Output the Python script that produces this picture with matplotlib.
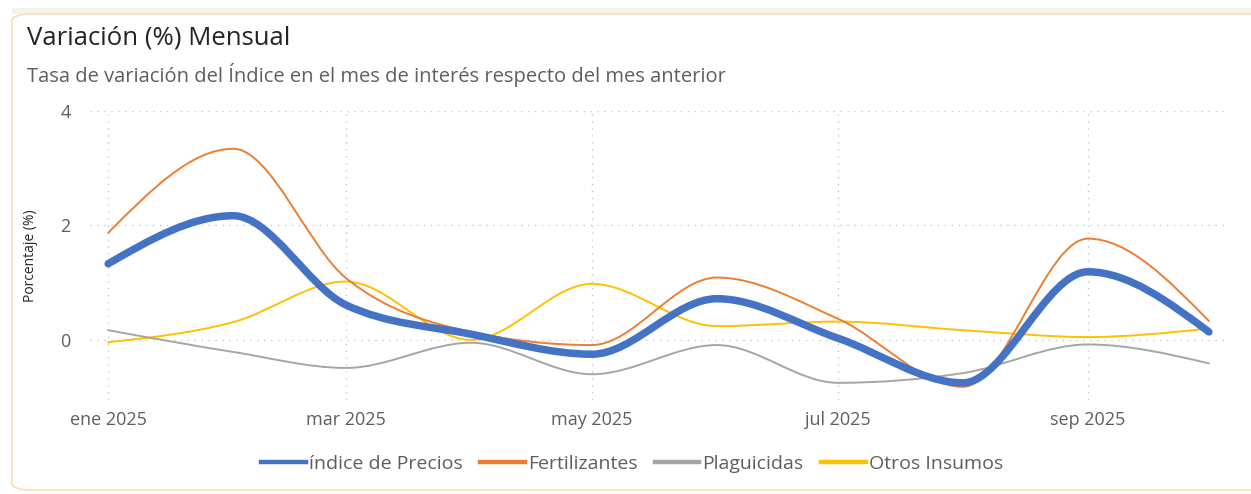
#!/usr/bin/env python3

import numpy as np
import matplotlib.pyplot as plt
from matplotlib.path import Path
from matplotlib.patches import PathPatch, FancyBboxPatch
from matplotlib.lines import Line2D

plt.rcParams['font.family'] = ['Open Sans', 'DejaVu Sans']

# Data: monthly variation (%) by series, Jan-Oct 2025
months = np.arange('2025-01', '2025-11', dtype='datetime64[M]')
indice = [1.33, 2.17, 0.61, 0.10, -0.25, 0.72, 0.03, -0.75, 1.19, 0.14]
fertilizantes = [1.87, 3.34, 1.08, 0.14, -0.09, 1.09, 0.37, -0.82, 1.77, 0.33]
plaguicidas = [0.17, -0.21, -0.49, -0.05, -0.60, -0.09, -0.75, -0.58, -0.08, -0.41]
otros = [-0.04, 0.31, 1.02, 0.00, 0.98, 0.24, 0.32, 0.17, 0.05, 0.20]

series_names = ['índice de Precios', 'Fertilizantes', 'Plaguicidas', 'Otros Insumos']
series_data = [indice, fertilizantes, plaguicidas, otros]
series_colors = ['#4472C4', '#ED7D31', '#A5A5A5', '#FFC000']
series_widths = [5.4, 1.4, 1.4, 1.4]

tick_months = ['2025-01', '2025-03', '2025-05', '2025-07', '2025-09']
tick_labels = ['ene 2025', 'mar 2025', 'may 2025', 'jul 2025', 'sep 2025']

# x as days since Jan 1 (date axis)
x = (months.astype('datetime64[D]') - np.datetime64('2025-01-01')).astype(float)
xt = (np.array(tick_months, dtype='datetime64[M]').astype('datetime64[D]')
      - np.datetime64('2025-01-01')).astype(float)


def monotone_path(xs, ys):
    # monotone cubic (like d3 curveMonotoneX) as bezier path
    xs = np.asarray(xs, float)
    ys = np.asarray(ys, float)
    n = len(xs)
    h = np.diff(xs)
    s = np.diff(ys) / h
    t = np.zeros(n)
    for i in range(1, n - 1):
        p = (s[i-1]*h[i] + s[i]*h[i-1]) / (h[i-1] + h[i])
        t[i] = (np.sign(s[i-1]) + np.sign(s[i])) * min(abs(s[i-1]), abs(s[i]), 0.5*abs(p))
    t[0] = (3*s[0] - t[1]) / 2
    t[-1] = (3*s[-1] - t[-2]) / 2
    verts = [(xs[0], ys[0])]
    codes = [Path.MOVETO]
    for i in range(n - 1):
        dx = h[i] / 3
        verts += [(xs[i] + dx, ys[i] + dx*t[i]),
                  (xs[i+1] - dx, ys[i+1] - dx*t[i+1]),
                  (xs[i+1], ys[i+1])]
        codes += [Path.CURVE4] * 3
    return Path(verts, codes)


fig = plt.figure(figsize=(12.51, 4.94), dpi=100)

# card border (runs off the right edge like the reference)
fig.patches.append(plt.Rectangle((12/1251, 480/494), 1.0, 6/494, transform=fig.transFigure,
                                 facecolor='#F5F2EA', edgecolor='none', zorder=-6))
card = FancyBboxPatch((12/1251, 4/494), 1300/1251, 476/494,
                      boxstyle='round,pad=0,rounding_size=0.015',
                      transform=fig.transFigure, facecolor='white',
                      edgecolor='#F8DFB5', linewidth=1.2, zorder=-5)
fig.patches.append(card)

ax = fig.add_axes([90/1251, 1 - 400/494, (1225-90)/1251, (400-111)/494])
ax.set_facecolor('none')

for ys, c, w in zip(series_data[::-1], series_colors[::-1], series_widths[::-1]):
    ax.add_patch(PathPatch(monotone_path(x, ys), facecolor='none', edgecolor=c,
                           linewidth=w, capstyle='round', joinstyle='round'))

ax.set_xlim(-4.5, 277)
ax.set_ylim(-1.05, 4.0)
ax.set_yticks([0, 2, 4])
ax.set_xticks(xt)
ax.set_xticklabels(tick_labels)
ax.tick_params(length=0, labelsize=13, labelcolor='#605E5C', pad=8)
ax.tick_params(axis='y', pad=14)
for sp in ax.spines.values():
    sp.set_visible(False)
ax.grid(True, linestyle=(0, (1, 4)), color='#C8C8C8', linewidth=1.0)
ax.set_axisbelow(True)
ax.set_ylabel('Porcentaje (%)', fontsize=10, color='#252423', labelpad=16)

fig.text(27/1251, 1 - 38/494, 'Variación (%) Mensual', fontsize=18.5, color='#252423',
         va='center', ha='left')
fig.text(27/1251, 1 - 75/494,
         'Tasa de variación del Índice en el mes de interés respecto del mes anterior',
         fontsize=14.5, color='#605E5C', va='center', ha='left')

handles = [Line2D([], [], color=c, linewidth=3.2) for c in series_colors]
fig.legend(handles, series_names, loc='center', bbox_to_anchor=(632/1251, 1 - 464/494),
           ncol=4, frameon=False, fontsize=14, labelcolor='#605E5C',
           handlelength=2.3, handletextpad=0.15, columnspacing=0.9)

fig.savefig('out.png', dpi=100)
plt.close()
